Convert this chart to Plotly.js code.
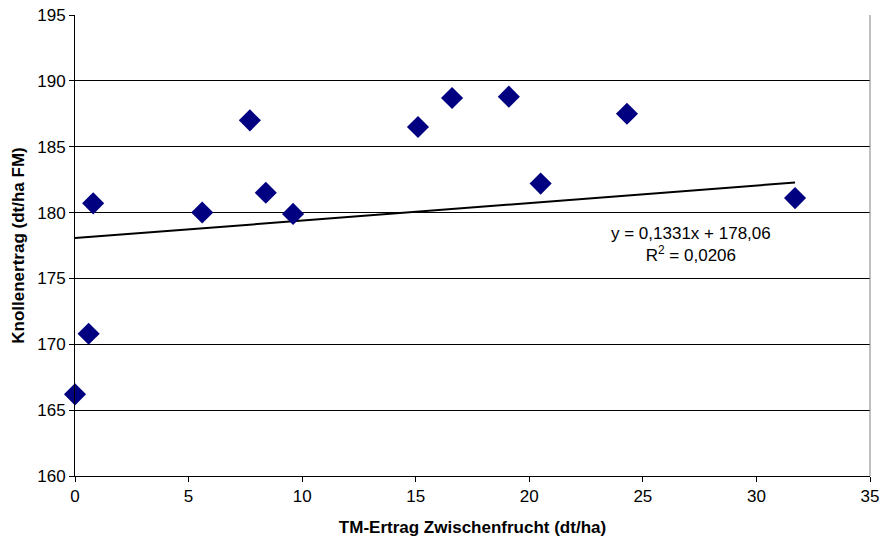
<!DOCTYPE html>
<html><head><meta charset="utf-8">
<script src="https://cdn.plot.ly/plotly-3.0.1.min.js"></script>
<style>body{margin:0;background:#fff}#c{width:880px;height:542px}</style>
</head><body><div id="c"></div>
<script>
var xVals = [0, 0.6, 0.8, 5.6, 7.7, 8.4, 9.6, 15.1, 16.6, 19.1, 20.5, 24.3, 31.7];
var yVals = [166.2, 170.8, 180.7, 180.0, 187.0, 181.5, 179.9, 186.5, 188.7, 188.8, 182.2, 187.5, 181.1];
var trendX = [0, 31.7];
var trendY = [178.06, 182.28];
var trendText = ["y = 0,1331x + 178,06", "R<sup>2</sup> = 0,0206"];
var xTitle = "TM-Ertrag Zwischenfrucht (dt/ha)";
var yTitle = "Knollenertrag (dt/ha FM)";

var font = "Liberation Sans, Arial, sans-serif";
var data = [
  {x: trendX, y: trendY, mode: "lines", line: {color: "#000", width: 2}, hoverinfo: "skip"},
  {x: xVals, y: yVals, mode: "markers", cliponaxis: false, marker: {symbol: "diamond", size: 17, color: "#000080"}}
];
var layout = {
  width: 880, height: 542,
  margin: {l: 75, r: 10, t: 15, b: 66},
  paper_bgcolor: "#fff", plot_bgcolor: "#fff",
  showlegend: false,
  font: {family: font, size: 17, color: "#000"},
  xaxis: {
    range: [0, 35], tickvals: [0,5,10,15,20,25,30,35], ticks: "outside", ticklen: 5, tickcolor: "#000",
    showgrid: false, zeroline: false, showline: true, linecolor: "#000", linewidth: 1,
    title: {text: "<b>" + xTitle + "</b>", font: {size: 17, family: font}, standoff: 15},
    tickfont: {size: 17}
  },
  yaxis: {
    range: [160, 195], tickvals: [160,165,170,175,180,185,190,195], ticks: "outside", ticklen: 5, tickcolor: "#000",
    showgrid: true, gridcolor: "#000", gridwidth: 1, zeroline: false, showline: true, linecolor: "#000", linewidth: 1,
    title: {text: "<b>" + yTitle + "</b>", font: {size: 17, family: font}, standoff: 8},
    tickfont: {size: 17}
  },
  shapes: [
    {type: "line", xref: "paper", yref: "paper", x0: 1, x1: 1, y0: 0, y1: 1, line: {color: "#808080", width: 1}}
  ],
  annotations: [
    {x: 27.12, y: 177.58, xref: "x", yref: "y", text: trendText[0] + "<br>" + trendText[1], showarrow: false, font: {size: 17}, align: "center", yanchor: "middle"}
  ]
};
Plotly.newPlot("c", data, layout, {displayModeBar: false});
</script></body></html>
